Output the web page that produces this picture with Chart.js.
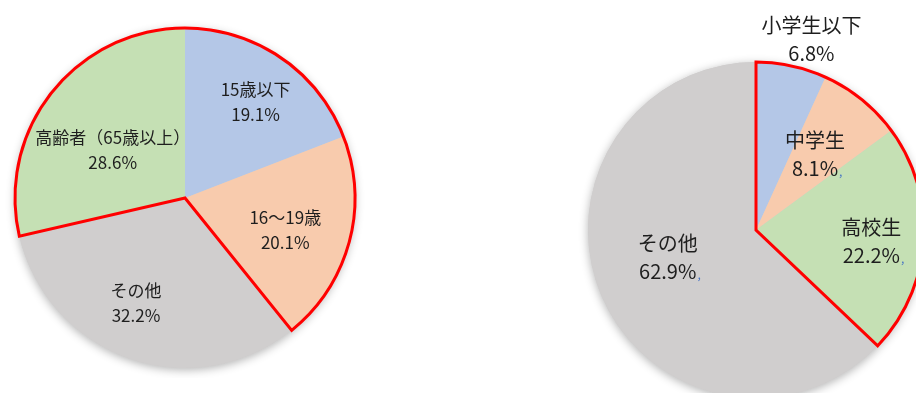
<!DOCTYPE html>
<html lang="ja">
<head>
<meta charset="utf-8">
<script src="https://cdn.jsdelivr.net/npm/chart.js@4.4.1/dist/chart.umd.min.js"></script>
<style>
  html, body { margin: 0; padding: 0; background: #fff; }
  body { width: 916px; height: 393px; position: relative; overflow: hidden; }
  canvas { position: absolute; }
  #leftPie { left: 5px; top: 18px; }
  #rightPie { left: 578px; top: 0px; }
</style>
</head>
<body>
<canvas id="leftPie" width="360" height="360"></canvas>
<canvas id="rightPie" width="356" height="408"></canvas>
<script>
// 左：年齢層別
const leftLabels = ['15歳以下', '16～19歳', 'その他', '高齢者（65歳以上）'];
const leftValues = [19.1, 20.1, 32.2, 28.6];

// 右：学生区分別
const rightLabels = ['小学生以下', '中学生', '高校生', 'その他'];
const rightValues = [6.8, 8.1, 22.2, 62.9];

const blue = '#B4C7E7', orange = '#F8CBAD', green = '#C5E0B4', gray = '#D0CECE';
const fontFamily = '"Noto Sans CJK JP", "Noto Sans", sans-serif';

function makeExtras(cfg) {
    return {
        id: 'pieExtras',
        beforeDatasetsDraw(chart) {
            const arc = chart.getDatasetMeta(0).data[0];
            const ctx = chart.ctx;
            ctx.save();
            ctx.shadowColor = 'rgba(0,0,0,0.3)';
            ctx.shadowBlur = 10;
            ctx.shadowOffsetY = 2;
            ctx.fillStyle = gray;
            ctx.beginPath();
            ctx.arc(arc.x, arc.y, arc.outerRadius, 0, Math.PI * 2);
            ctx.fill();
            ctx.restore();
        },
        afterDatasetsDraw(chart) {
            const arcs = chart.getDatasetMeta(0).data;
            const ctx = chart.ctx;
            const first = arcs[cfg.outline[0]];
            const last = arcs[cfg.outline[cfg.outline.length - 1]];
            let start = first.startAngle, end = last.endAngle;
            if (end <= start) end += Math.PI * 2;
            // 赤枠
            ctx.save();
            ctx.strokeStyle = '#FF0000';
            ctx.lineWidth = 3;
            ctx.lineJoin = 'miter';
            ctx.beginPath();
            ctx.moveTo(first.x, first.y);
            ctx.arc(first.x, first.y, first.outerRadius, start, end);
            ctx.closePath();
            ctx.stroke();
            ctx.restore();
            // ラベル
            ctx.save();
            ctx.textAlign = 'center';
            ctx.textBaseline = 'middle';
            ctx.font = cfg.fontSize + 'px ' + fontFamily;
            arcs.forEach((a, i) => {
                const [f, shift] = cfg.labelPos[i];
                const mid = (a.startAngle + a.endAngle) / 2 + shift * Math.PI / 180;
                const r = a.outerRadius * f;
                const cx = a.x + Math.cos(mid) * r;
                const cy = a.y + Math.sin(mid) * r;
                const pct = cfg.values[i].toFixed(1) + '%';
                ctx.fillStyle = '#1e1e1e';
                ctx.fillText(cfg.labels[i], cx, cy - cfg.lineGap / 2);
                ctx.fillText(pct, cx, cy + cfg.lineGap / 2);
                if (cfg.comma && cfg.comma[i]) {
                    const w = ctx.measureText(pct).width;
                    ctx.save();
                    ctx.font = '12px ' + fontFamily;
                    ctx.fillStyle = '#4472C4';
                    ctx.textAlign = 'left';
                    ctx.fillText(',', cx + w / 2 + 1, cy + cfg.lineGap / 2 + 3);
                    ctx.restore();
                }
            });
            ctx.restore();
        }
    };
}

function makePie(id, labels, values, colors, padding, extras) {
    new Chart(document.getElementById(id), {
        type: 'pie',
        data: {
            labels: labels,
            datasets: [{
                data: values,
                backgroundColor: colors,
                borderWidth: 0,
                hoverOffset: 0
            }]
        },
        options: {
            responsive: false,
            animation: false,
            layout: { padding: padding },
            events: [],
            plugins: { legend: { display: false }, tooltip: { enabled: false } }
        },
        plugins: [makeExtras(Object.assign({ labels: labels, values: values }, extras))]
    });
}

makePie('leftPie', leftLabels, leftValues, [blue, orange, gray, green], 10, {
    outline: [3, 0, 1],
    labelPos: [[0.70, 2], [0.62, 3], [0.68, 6], [0.51, -5]],
    fontSize: 17,
    lineGap: 25
});

makePie('rightPie', rightLabels, rightValues, [blue, orange, green, gray],
    { top: 62, left: 10, right: 10, bottom: 10 }, {
    outline: [0, 1, 2],
    labelPos: [[1.18, 4], [0.57, -1], [0.69, 2], [0.55, 6]],
    fontSize: 20,
    lineGap: 28,
    comma: [false, true, true, true]
});
</script>
</body>
</html>
